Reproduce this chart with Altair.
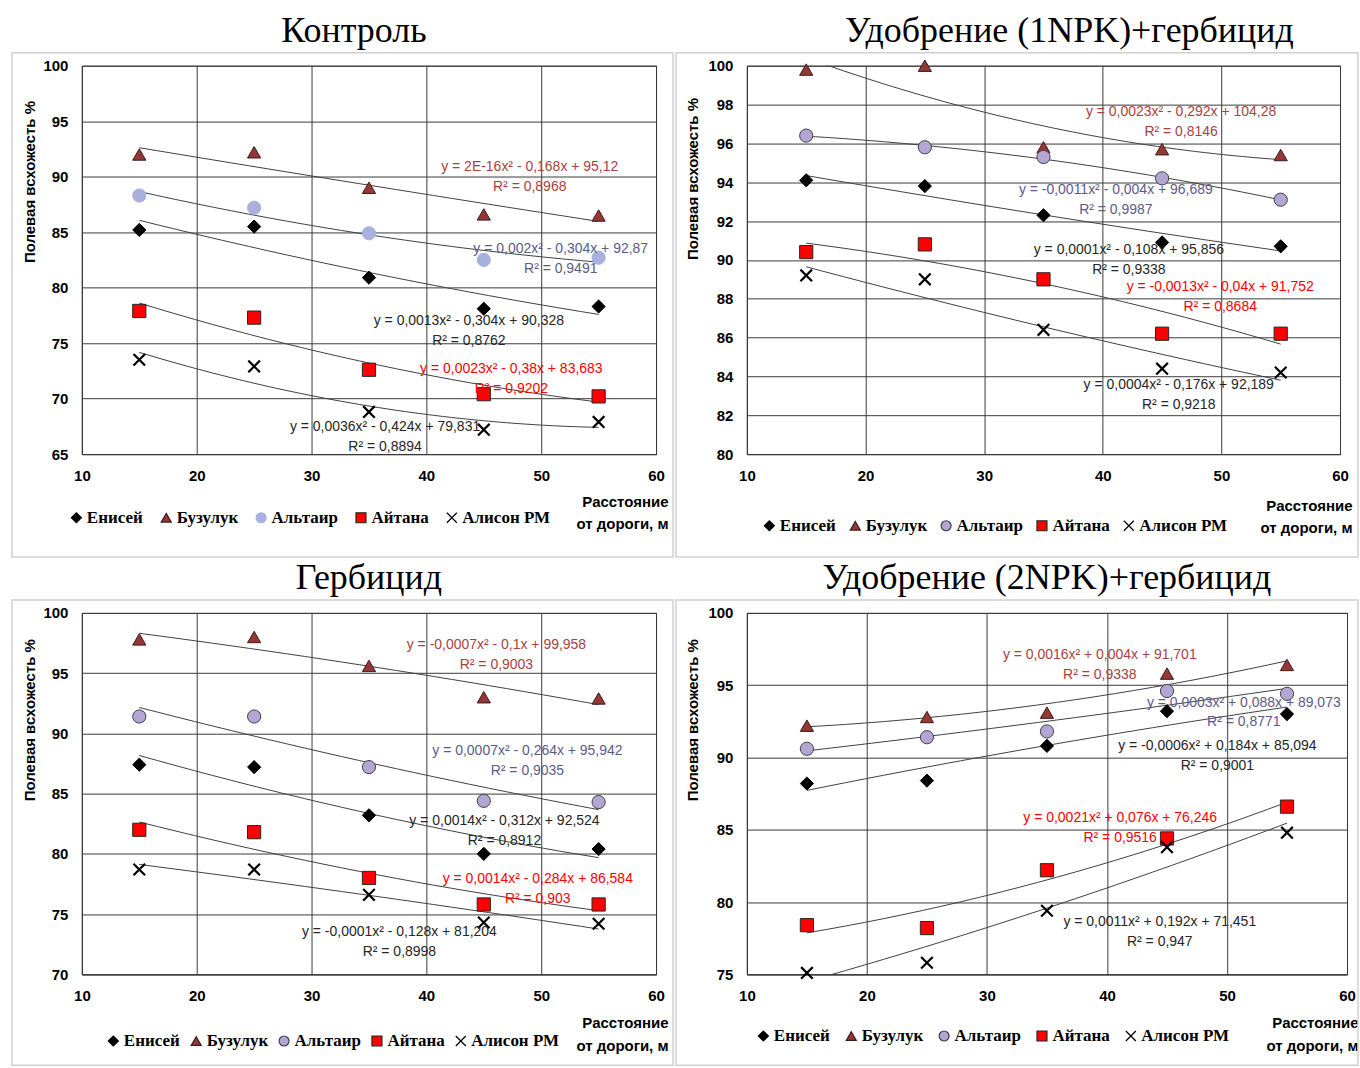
import altair as alt

x_vals = [15, 25, 35, 45, 55]
varieties = ["Енисей", "Бузулук", "Альтаир", "Айтана", "Алисон РМ"]

kontrol = {
    "Енисей": [85.2, 85.5, 80.9, 78.1, 78.3],
    "Бузулук": [92.0, 92.2, 89.0, 86.6, 86.5],
    "Альтаир": [88.3, 87.2, 84.9, 82.5, 82.7],
    "Айтана": [77.9, 77.3, 72.6, 70.4, 70.2],
    "Алисон РМ": [73.5, 72.9, 68.8, 67.2, 67.9],
}
npk1 = {
    "Енисей": [94.1, 93.8, 92.3, 90.9, 90.7],
    "Бузулук": [99.8, 100.0, 95.8, 95.7, 95.4],
    "Альтаир": [96.4, 95.8, 95.3, 94.2, 93.1],
    "Айтана": [90.4, 90.8, 89.0, 86.2, 86.2],
    "Алисон РМ": [89.2, 89.0, 86.4, 84.4, 84.2],
}
gerb = {
    "Енисей": [87.4, 87.2, 83.2, 80.0, 80.4],
    "Бузулук": [97.8, 98.0, 95.6, 93.0, 92.9],
    "Альтаир": [91.4, 91.4, 87.2, 84.4, 84.3],
    "Айтана": [82.0, 81.8, 78.0, 75.8, 75.8],
    "Алисон РМ": [78.7, 78.7, 76.6, 74.3, 74.2],
}
npk2 = {
    "Енисей": [88.2, 88.4, 90.8, 93.2, 93.0],
    "Бузулук": [92.2, 92.8, 93.1, 95.8, 96.4],
    "Альтаир": [90.6, 91.4, 91.8, 94.6, 94.4],
    "Айтана": [78.4, 78.2, 82.2, 84.4, 86.6],
    "Алисон РМ": [75.1, 75.8, 79.4, 83.8, 84.8],
}

# trendline equation labels (line 1, line 2) in order of varieties
kontrol_eq = [
    ("y = 0,0013x² - 0,304x + 90,328", "R² = 0,8762"),
    ("y = 2E-16x² - 0,168x + 95,12", "R² = 0,8968"),
    ("y = 0,002x² - 0,304x + 92,87", "R² = 0,9491"),
    ("y = 0,0023x² - 0,38x + 83,683", "R² = 0,9202"),
    ("y = 0,0036x² - 0,424x + 79,831", "R² = 0,8894"),
]
npk1_eq = [
    ("y = 0,0001x² - 0,108x + 95,856", "R² = 0,9338"),
    ("y = 0,0023x² - 0,292x + 104,28", "R² = 0,8146"),
    ("y = -0,0011x² - 0,004x + 96,689", "R² = 0,9987"),
    ("y = -0,0013x² - 0,04x + 91,752", "R² = 0,8684"),
    ("y = 0,0004x² - 0,176x + 92,189", "R² = 0,9218"),
]
gerb_eq = [
    ("y = 0,0014x² - 0,312x + 92,524", "R² = 0,8912"),
    ("y = -0,0007x² - 0,1x + 99,958", "R² = 0,9003"),
    ("y = 0,0007x² - 0,264x + 95,942", "R² = 0,9035"),
    ("y = 0,0014x² - 0,284x + 86,584", "R² = 0,903"),
    ("y = -0,0001x² - 0,128x + 81,204", "R² = 0,8998"),
]
npk2_eq = [
    ("y = -0,0006x² + 0,184x + 85,094", "R² = 0,9001"),
    ("y = 0,0016x² + 0,004x + 91,701", "R² = 0,9338"),
    ("y = 0,0003x² + 0,088x + 89,073", "R² = 0,8771"),
    ("y = 0,0021x² + 0,076x + 76,246", "R² = 0,9516"),
    ("y = 0,0011x² + 0,192x + 71,451", "R² = 0,947"),
]
# label anchor points (data coordinates) for the equation labels
kontrol_eq_x = [43.7, 49.0, 51.7, 47.4, 36.4]
kontrol_eq_y = [77.0, 90.9, 83.5, 72.7, 67.4]
npk1_eq_x = [42.2, 46.6, 41.1, 49.9, 46.4]
npk1_eq_y = [90.5, 97.6, 93.6, 88.6, 83.55]
gerb_eq_x = [46.8, 46.1, 48.8, 49.7, 37.65]
gerb_eq_y = [82.7, 97.3, 88.55, 77.95, 73.55]
npk2_eq_x = [49.2, 39.4, 51.4, 41.1, 44.4]
npk2_eq_y = [90.8, 97.1, 93.8, 85.8, 78.6]

shape_range = ["diamond", "triangle-up", "circle", "square", "M-1,-1L1,1M-1,1L1,-1"]
text_colors = ["#262626", "#a8423f", "#5e5a88", "#ff0000", "#262626"]
LBL_FONT = "Liberation Sans"
EQ_FONT = "Liberation Sans"
GRID = "#3a3a3a"


def panel(vals, eqs, eqx, eqy, title, title_dx, ydom, ystep, w, h,
          alt_fill, alt_stroke, leg_x, leg_y, colpad,
          ytx, yty, xtx, xty, box):
    rows = []
    for v in varieties:
        for xv, yv in zip(x_vals, vals[v]):
            rows.append({"variety": v, "x": xv, "y": yv})
    eq_rows = []
    for v, (l1, l2), ex, ey in zip(varieties, eqs, eqx, eqy):
        eq_rows.append({"variety": v, "x": ex, "y": ey, "l1": l1, "l2": l2})

    yvals = list(range(ydom[0], ydom[1] + 1, ystep))
    xenc = alt.X("x:Q", scale=alt.Scale(domain=[10, 60], nice=False),
                 axis=alt.Axis(values=[10, 20, 30, 40, 50, 60], tickCount=6,
                               labelFlush=False,
                               title=["Расстояние", "от дороги, м"],
                               titleX=xtx, titleY=xty, titleAlign="right",
                               titleBaseline="top", titleLineHeight=23))
    yenc = alt.Y("y:Q", scale=alt.Scale(domain=list(ydom), nice=False, zero=False),
                 axis=alt.Axis(values=yvals, tickCount=len(yvals), labelFlush=False,
                               labelOverlap=False,
                               title="Полевая всхожесть %",
                               titleAngle=270, titleX=ytx, titleY=yty,
                               titleAlign="center", titleBaseline="middle"))

    leg = alt.Legend(orient="none", legendX=leg_x, legendY=leg_y,
                     direction="horizontal", columns=5, title=None,
                     columnPadding=colpad)
    fill_range = ["#000000", "#953735", alt_fill, "#ff0000", "transparent"]
    stroke_range = ["#000000", "#3b1c1c", alt_stroke, "#262626", "#000000"]
    shape = alt.Shape("variety:N", scale=alt.Scale(domain=varieties, range=shape_range), legend=leg)
    fill = alt.Fill("variety:N", scale=alt.Scale(domain=varieties, range=fill_range), legend=leg)
    stroke = alt.Stroke("variety:N", scale=alt.Scale(domain=varieties, range=stroke_range), legend=leg)

    base = alt.Chart(alt.Data(values=rows))
    trend = base.transform_regression(
        "x", "y", method="poly", order=2, groupby=["variety"], extent=[15, 55]
    ).mark_line(color="#404040", strokeWidth=1, clip=True).encode(
        x=xenc, y=yenc, detail="variety:N")

    pts_a = base.transform_filter(alt.datum.variety != "Алисон РМ").mark_point(
        filled=True, opacity=1, size=175, strokeWidth=1).encode(
        x="x:Q", y="y:Q", shape=shape, fill=fill, stroke=stroke)
    pts_b = base.transform_filter(alt.datum.variety == "Алисон РМ").mark_point(
        filled=True, opacity=1, size=135, strokeWidth=2.2).encode(
        x="x:Q", y="y:Q", shape=shape, fill=fill, stroke=stroke)

    eqbase = alt.Chart(alt.Data(values=eq_rows))
    tcol = alt.Color("variety:N", scale=alt.Scale(domain=varieties, range=text_colors), legend=None)
    t1 = eqbase.mark_text(font=EQ_FONT, fontSize=14, align="center", baseline="middle").encode(
        x="x:Q", y="y:Q", text="l1:N", color=tcol)
    t2 = eqbase.mark_text(font=EQ_FONT, fontSize=14, align="center", baseline="middle", dy=20).encode(
        x="x:Q", y="y:Q", text="l2:N", color=tcol)

    frame = alt.Chart(alt.Data(values=[{}])).mark_rect(
        fill="transparent", stroke="#d0d0d0", strokeWidth=1.5).encode(
        x=alt.value(box[0]), x2=alt.value(box[1]), y=alt.value(box[2]), y2=alt.value(box[3]))

    return alt.layer(frame, trend, pts_a, pts_b, t1, t2).properties(
        width=w, height=h,
        title=alt.TitleParams(text=title, dx=title_dx, anchor="middle", frame="group", offset=2),
    )


p1 = panel(kontrol, kontrol_eq, kontrol_eq_x, kontrol_eq_y, "Контроль", -15,
           (65, 100), 5, 575, 389, "#a9b0de", "#a9b0de", -14, 444, 14,
           -52, 116, 587, 40, (-70, 592, -13, 492))
p2 = panel(npk1, npk1_eq, npk1_eq_x, npk1_eq_y, "Удобрение (1NPK)+гербицид", 26,
           (80, 100), 2, 594, 389, "#b3a6d4", "#404040", 14, 452, 10,
           -54, 113, 606, 44, (-71, 612, -13, 492))
p3 = panel(gerb, gerb_eq, gerb_eq_x, gerb_eq_y, "Гербицид", 0,
           (70, 100), 5, 575, 362, "#b3a6d4", "#404040", 23, 420, 7,
           -52, 107, 587, 41, (-70, 592, -13, 453))
p4 = panel(npk2, npk2_eq, npk2_eq_x, npk2_eq_y, "Удобрение (2NPK)+гербицид", 0,
           (75, 100), 5, 601, 362, "#b3a6d4", "#404040", 8, 415, 12,
           -54, 107, 612, 41, (-71, 612, -13, 453))

chart = alt.concat(
    p1, p2, p3, p4, columns=2, spacing={"row": 159, "column": 91}, bounds="flush"
).resolve_scale(
    shape="independent", fill="independent", stroke="independent", color="independent"
).properties(
    padding={"left": 10, "top": 11, "right": 0, "bottom": 0},
    background="white",
).configure_view(
    stroke=GRID, strokeWidth=1
).configure_axis(
    domainColor=GRID, gridColor=GRID, gridOpacity=1, grid=True, ticks=False,
    labelFont=LBL_FONT, labelFontSize=15, labelFontWeight="bold", labelColor="#000",
    titleFont=LBL_FONT, titleFontSize=15, titleFontWeight="bold", titleColor="#000",
    labelPadding=14,
).configure_legend(
    labelFont="Liberation Serif", labelFontSize=17, labelFontWeight="bold", labelColor="#000",
    symbolSize=100, symbolStrokeWidth=1.2, labelOffset=2,
).configure_title(
    font="Liberation Serif", fontSize=36, fontWeight="normal", color="#000",
)

chart.save("out.html", embed_options={"renderer": "svg", "actions": False})
